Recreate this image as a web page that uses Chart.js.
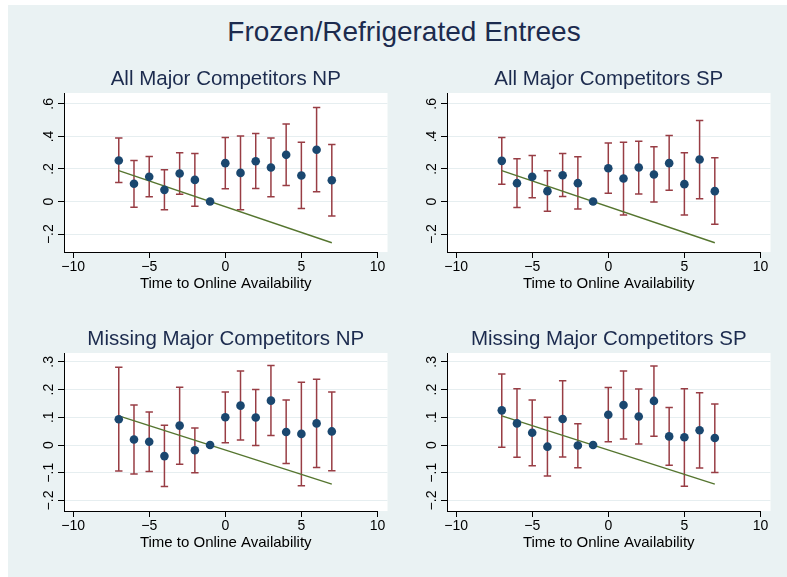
<!DOCTYPE html>
<html>
<head>
<meta charset="utf-8">
<title>Frozen/Refrigerated Entrees</title>
<script src="https://cdn.jsdelivr.net/npm/chart.js@4.4.0/dist/chart.umd.min.js"></script>
<style>
  html, body { margin: 0; padding: 0; background: #ffffff; }
  #frame { position: absolute; left: 8px; top: 5px; width: 779px; height: 572px; background: #eaf2f3; }
  #title { position: absolute; left: 104px; top: 18px; width: 600px; text-align: center;
           font: 28px/28px "Liberation Sans", Arial, sans-serif; color: #1c2b4e; }
  canvas { position: absolute; }
</style>
</head>
<body>
<div id="frame"></div>
<div id="title">Frozen/Refrigerated Entrees</div>
<canvas id="p1" width="385" height="245" style="left:8px;top:60px"></canvas>
<canvas id="p2" width="385" height="245" style="left:391px;top:60px"></canvas>
<canvas id="p3" width="385" height="244" style="left:8px;top:320px"></canvas>
<canvas id="p4" width="385" height="244" style="left:391px;top:320px"></canvas>
<script>
// Event time relative to the product going online
const periods = [-7, -6, -5, -4, -3, -2, -1, 0, 1, 2, 3, 4, 5, 6, 7];

// All major competitors, NP
const allNP_est = [0.252, 0.109, 0.152, 0.072, 0.172, 0.133, 0, 0.236, 0.176, 0.248, 0.209, 0.287, 0.160, 0.318, 0.131];
const allNP_lo  = [0.117, -0.035, 0.029, -0.051, 0.045, -0.029, null, 0.078, -0.051, 0.080, 0.029, 0.098, -0.043, 0.060, -0.088];
const allNP_hi  = [0.390, 0.252, 0.277, 0.195, 0.300, 0.295, null, 0.394, 0.402, 0.418, 0.390, 0.476, 0.365, 0.578, 0.351];

// All major competitors, SP
const allSP_est = [0.250, 0.113, 0.152, 0.064, 0.162, 0.113, 0, 0.205, 0.142, 0.209, 0.166, 0.236, 0.107, 0.258, 0.064];
const allSP_lo  = [0.107, -0.037, 0.023, -0.059, 0.031, -0.045, null, 0.051, -0.082, 0.047, -0.002, 0.070, -0.082, 0.018, -0.139];
const allSP_hi  = [0.394, 0.263, 0.283, 0.189, 0.295, 0.275, null, 0.359, 0.365, 0.371, 0.336, 0.406, 0.300, 0.498, 0.269];

// Missing major competitors, NP
const misNP_est = [0.093, 0.020, 0.012, -0.040, 0.070, -0.019, 0, 0.100, 0.142, 0.099, 0.160, 0.047, 0.040, 0.078, 0.049];
const misNP_lo  = [-0.094, -0.105, -0.096, -0.150, -0.069, -0.100, null, 0.008, 0.018, -0.002, 0.034, -0.067, -0.147, -0.081, -0.093];
const misNP_hi  = [0.280, 0.144, 0.119, 0.071, 0.208, 0.061, null, 0.191, 0.267, 0.200, 0.287, 0.162, 0.226, 0.237, 0.191];

// Missing major competitors, SP
const misSP_est = [0.125, 0.078, 0.044, -0.006, 0.094, -0.002, 0, 0.109, 0.144, 0.103, 0.159, 0.031, 0.028, 0.053, 0.025];
const misSP_lo  = [-0.008, -0.044, -0.075, -0.112, -0.043, -0.082, null, 0.012, 0.022, 0.004, 0.032, -0.073, -0.149, -0.083, -0.099];
const misSP_hi  = [0.256, 0.203, 0.162, 0.100, 0.232, 0.077, null, 0.207, 0.267, 0.202, 0.285, 0.135, 0.203, 0.188, 0.148];

// Pre-trend fit line, end points at t = -7 and t = 7
const fitX = [-7, 7];
const allNP_fit = [0.190, -0.253];
const allSP_fit = [0.190, -0.253];
const misNP_fit = [0.105, -0.141];
const misSP_fit = [0.105, -0.141];

// Axis ticks
const xTicks = [-10, -5, 0, 5, 10];
const xLabels = ['\u221210', '\u22125', '0', '5', '10'];
const topYTicks = [-0.2, 0, 0.2, 0.4, 0.6];
const topYLabels = ['\u2212.2', '0', '.2', '.4', '.6'];
const botYTicks = [-0.2, -0.1, 0, 0.1, 0.2, 0.3];
const botYLabels = ['\u2212.2', '\u2212.1', '0', '.1', '.2', '.3'];

const NAVY = '#1a476f';
const MAROON = '#983d44';
const GREEN = '#55752f';
const GRID = '#e6eef0';
const HEAD = '#1c2b4e';

Chart.defaults.font.family = '"Liberation Sans", Arial, Helvetica, sans-serif';
Chart.defaults.color = '#000';

// White plot region behind the marks, and the x axis line running up to the last tick
const plotRegion = {
  id: 'plotRegion',
  beforeDraw(chart) {
    const a = chart.chartArea, ctx = chart.ctx;
    ctx.save();
    ctx.fillStyle = '#ffffff';
    ctx.fillRect(a.left, a.top, a.right - a.left, a.bottom - a.top);
    ctx.restore();
  },
  afterDraw(chart) {
    const a = chart.chartArea, ctx = chart.ctx, xs = chart.scales.x;
    const y = Math.round(a.bottom) + 0.5;
    ctx.save();
    ctx.strokeStyle = '#000';
    ctx.lineWidth = 1;
    ctx.beginPath();
    ctx.moveTo(Math.round(a.left), y);
    ctx.lineTo(Math.round(xs.getPixelForValue(xTicks[xTicks.length - 1])) + 0.5, y);
    ctx.stroke();
    ctx.restore();
  }
};

function makePanel(id, heading, est, lo, hi, fit, yTicks, yLabels, yMin, yMax) {
  const dots = periods.map((t, i) => ({ x: t, y: est[i] }));
  const bars = [];
  periods.forEach((t, i) => {
    if (lo[i] === null) return;
    bars.push({ x: t, y: lo[i] }, { x: t, y: hi[i] }, { x: t, y: null });
  });
  const fitLine = fitX.map((t, i) => ({ x: t, y: fit[i] }));

  new Chart(document.getElementById(id), {
    type: 'scatter',
    data: {
      datasets: [
        { type: 'scatter', data: dots, pointRadius: 4.3, pointBackgroundColor: NAVY,
          pointBorderColor: NAVY, pointBorderWidth: 0, order: 0 },
        { type: 'line', data: fitLine, borderColor: GREEN, borderWidth: 1.4, pointRadius: 0,
          tension: 0, order: 1 },
        { type: 'line', data: bars, borderColor: MAROON, borderWidth: 1.5, spanGaps: false,
          pointStyle: 'line', pointRadius: 3.7, pointBorderColor: MAROON, pointBorderWidth: 1.5,
          pointBackgroundColor: MAROON, tension: 0, order: 2 }
      ]
    },
    options: {
      responsive: false,
      animation: false,
      devicePixelRatio: 1,
      events: [],
      layout: { padding: { left: 0, right: 4, top: 0, bottom: 0 } },
      plugins: {
        legend: { display: false },
        tooltip: { enabled: false },
        title: { display: true, text: heading, fullSize: false, color: HEAD,
                 font: { size: 20.5, weight: 'normal' }, padding: { top: 7, bottom: 1.4 } }
      },
      scales: {
        x: {
          type: 'linear', position: 'bottom', min: -10.6, max: 10.66,
          afterBuildTicks: s => { s.ticks = xTicks.map(v => ({ value: v })); },
          afterFit: s => { s.height = 53; },
          ticks: { autoSkip: false, maxRotation: 0, minRotation: 0, padding: 0.5,
                   font: { size: 14 }, color: '#000', callback: (v, i) => xLabels[i] },
          grid: { drawOnChartArea: false, drawTicks: true, tickLength: 6, tickColor: '#000', tickWidth: 1 },
          border: { display: false },
          title: { display: true, text: 'Time to Online Availability', color: '#000',
                   font: { size: 15 }, padding: { top: 0, bottom: 12.5 } }
        },
        y: {
          type: 'linear', position: 'left', min: yMin, max: yMax,
          afterBuildTicks: s => { s.ticks = yTicks.map(v => ({ value: v })); },
          afterFit: s => { s.width = 56; },
          ticks: { autoSkip: false, minRotation: 90, maxRotation: 90, crossAlign: 'center', padding: -1,
                   font: { size: 14 }, color: '#000', callback: (v, i) => yLabels[i] },
          grid: { color: GRID, lineWidth: 1, drawTicks: true, tickLength: 6, tickColor: '#000', tickWidth: 1 },
          border: { display: true, color: '#000', width: 1 }
        }
      }
    },
    plugins: [plotRegion]
  });
}

makePanel('p1', 'All Major Competitors NP', allNP_est, allNP_lo, allNP_hi, allNP_fit, topYTicks, topYLabels, -0.3097, 0.6667);
makePanel('p2', 'All Major Competitors SP', allSP_est, allSP_lo, allSP_hi, allSP_fit, topYTicks, topYLabels, -0.3097, 0.6667);
makePanel('p3', 'Missing Major Competitors NP', misNP_est, misNP_lo, misNP_hi, misNP_fit, botYTicks, botYLabels, -0.238, 0.3318);
makePanel('p4', 'Missing Major Competitors SP', misSP_est, misSP_lo, misSP_hi, misSP_fit, botYTicks, botYLabels, -0.238, 0.3318);
</script>
</body>
</html>
